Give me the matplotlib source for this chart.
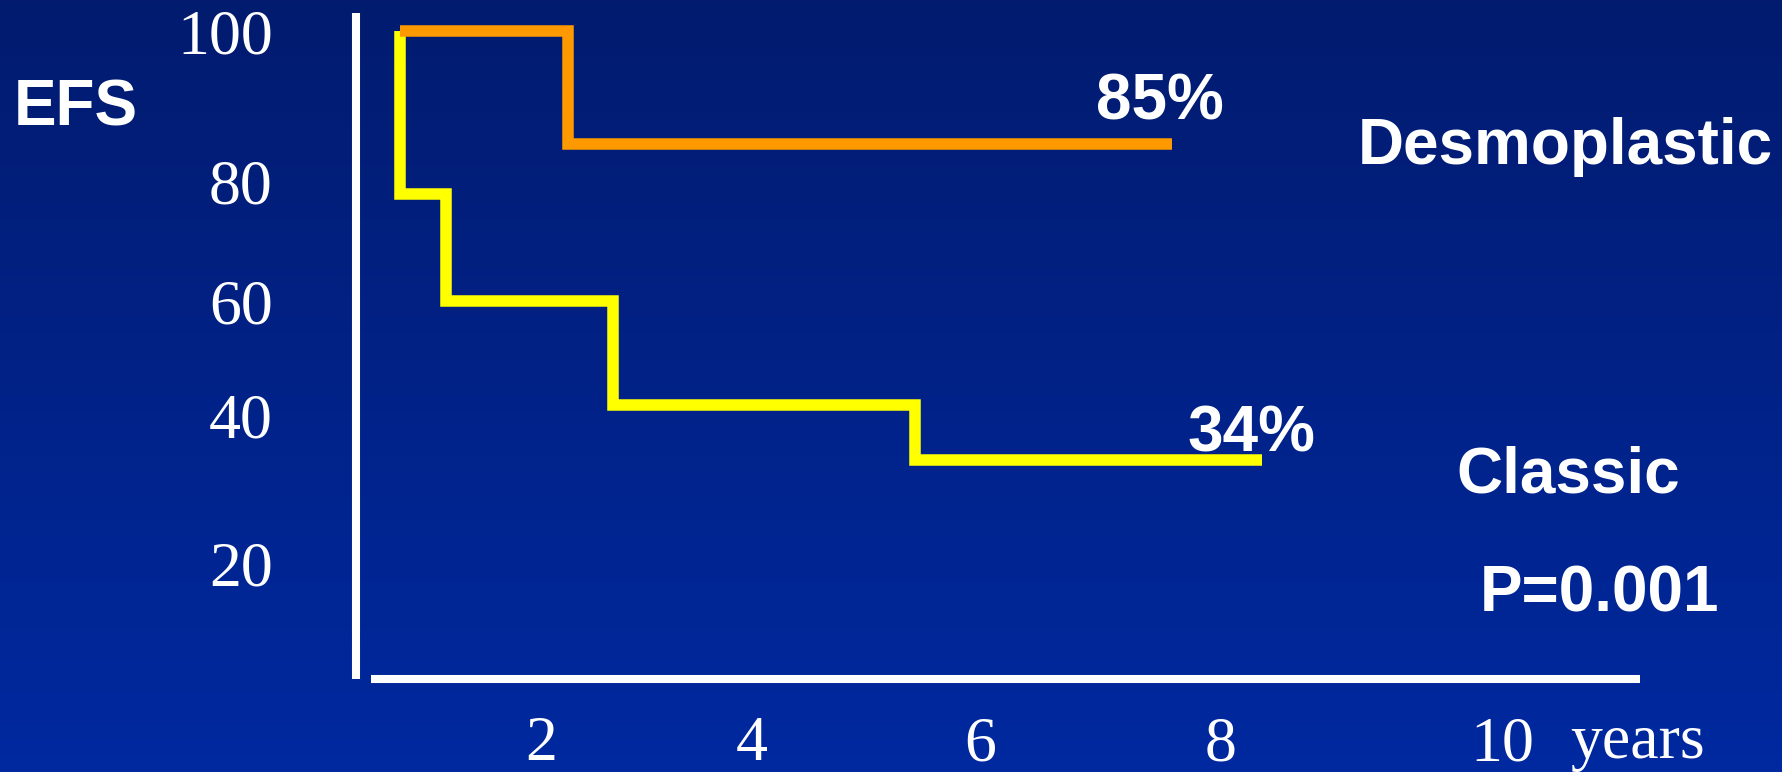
import numpy as np
import matplotlib
matplotlib.use('Agg')
import matplotlib.pyplot as plt
from matplotlib.colors import LinearSegmentedColormap

# Kaplan-Meier steps (years, % event-free)
DESMO_T = [0, 2.26, 7.59]
DESMO_S = [100, 85, 85]
CLASSIC_T = [0, 0, 0.65, 2.68, 5.43, 8.29]
CLASSIC_S = [100, 78, 60, 42, 34, 34]

X_TICKS = [2, 4, 6, 8, 10]
Y_TICKS = [20, 40, 60, 80, 100]

# the slide's axes are hand-spaced, so the scales are piecewise linear
# between where each tick sits (pixels on a 1782x772 slide)
W, H = 1782, 772
X_ANCHORS = [0, 2, 4, 6, 8, 10]
X_ANCHOR_PX = [400, 541, 752, 980, 1221, 1502]
Y_ANCHOR_PX = [563, 416, 301, 182, 31]  # for Y_TICKS

BG_TOP = '#021b6f'
BG_BOTTOM = '#0029a0'
ORANGE = '#ff9900'
YELLOW = '#ffff00'
SANS = 'Liberation Sans'
SERIF = 'Liberation Serif'


def piecewise(xp, fp):
    xp = np.asarray(xp, float)
    fp = np.asarray(fp, float)
    lo_slope = (fp[1] - fp[0]) / (xp[1] - xp[0])
    hi_slope = (fp[-1] - fp[-2]) / (xp[-1] - xp[-2])

    def f(v):
        v = np.asarray(v, float)
        out = np.interp(v, xp, fp)
        out = np.where(v < xp[0], fp[0] + (v - xp[0]) * lo_slope, out)
        out = np.where(v > xp[-1], fp[-1] + (v - xp[-1]) * hi_slope, out)
        return out
    return f


fig = plt.figure(figsize=(W / 100, H / 100), dpi=100)

# background gradient
bg = fig.add_axes([0, 0, 1, 1], zorder=0)
cmap = LinearSegmentedColormap.from_list('slide', [BG_TOP, BG_BOTTOM])
bg.imshow(np.linspace(0, 1, 256)[:, None], aspect='auto', cmap=cmap,
          extent=[0, 1, 0, 1])
bg.axis('off')

left, right, top, bottom = 356, 1640, 13, 679
ax = fig.add_axes([left / W, (H - bottom) / H, (right - left) / W, (bottom - top) / H],
                  zorder=1)
ax.set_facecolor('none')

fx, ix = piecewise(X_ANCHORS, X_ANCHOR_PX), piecewise(X_ANCHOR_PX, X_ANCHORS)
neg_px = [-p for p in Y_ANCHOR_PX]
fy, iy = piecewise(Y_TICKS, neg_px), piecewise(neg_px, Y_TICKS)
ax.set_xscale('function', functions=(fx, ix))
ax.set_yscale('function', functions=(fy, iy))
ax.set_xlim(float(ix(left)), float(ix(right)))
ax.set_ylim(float(iy(-bottom)), float(iy(-top)))

ax.step(CLASSIC_T, CLASSIC_S, where='post', color=YELLOW, lw=8.3,
        solid_capstyle='butt', solid_joinstyle='miter', zorder=2, clip_on=False)
ax.step(DESMO_T, DESMO_S, where='post', color=ORANGE, lw=8.3,
        solid_capstyle='butt', solid_joinstyle='miter', zorder=3, clip_on=False)

for side in ['top', 'right']:
    ax.spines[side].set_visible(False)
for side in ['left', 'bottom']:
    ax.spines[side].set_color('white')
    ax.spines[side].set_linewidth(5.8)
    ax.spines[side].set_capstyle('butt')
ax.spines['bottom'].set_bounds(float(ix(371)), float(ix(right)))

ax.set_xticks(X_TICKS)
ax.set_xticklabels([str(v) for v in X_TICKS])
ax.set_yticks(Y_TICKS)
ax.set_yticklabels([str(v) for v in Y_TICKS])
ax.tick_params(length=0, colors='white', labelsize=46)
ax.tick_params(axis='x', pad=27)
ax.tick_params(axis='y', pad=60)
for lab in ax.get_xticklabels() + ax.get_yticklabels():
    lab.set_family(SERIF)


def slide_text(x, y, s, **kw):
    fig.text(x / W, 1 - y / H, s, ha='left', va='baseline', color='white', **kw)


bold = dict(family=SANS, fontweight='bold', fontsize=46)
slide_text(14, 125, 'EFS', **bold)
slide_text(1096, 120, '85%', **bold)
slide_text(1358, 164, 'Desmoplastic', **bold)
slide_text(1187, 452, '34%', **bold)
slide_text(1456, 492, 'Classic', **bold)
slide_text(1480, 612, 'P=0.001', **bold)
slide_text(1570, 758, 'years', family=SERIF, fontsize=46)

fig.savefig('out.png', dpi=100)
